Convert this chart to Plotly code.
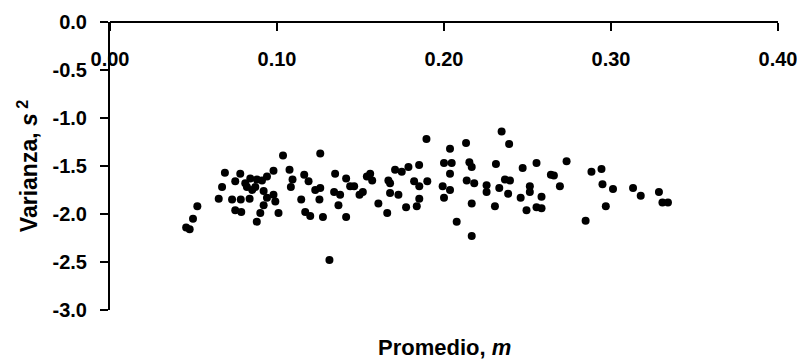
import plotly.graph_objects as go

# Promedio (m) and Varianza (s^2)
promedio = [0.0456, 0.0477, 0.0497, 0.0523, 0.0651, 0.0671, 0.0688, 0.0731, 0.0750, 0.0750,
            0.0780, 0.0783, 0.0786, 0.0820, 0.0836, 0.0840, 0.0870, 0.0880, 0.0879, 0.0900,
            0.0920, 0.0920, 0.0940, 0.0940, 0.0910, 0.0979, 0.0979, 0.0990, 0.1009, 0.1036,
            0.1075, 0.1093, 0.1083, 0.1145, 0.1163, 0.1189, 0.1169, 0.1199, 0.1229, 0.1259,
            0.1254, 0.1259, 0.1275, 0.1314, 0.1348, 0.1342, 0.1378, 0.1368, 0.1414, 0.1438,
            0.1462, 0.1414, 0.1494, 0.1514, 0.1538, 0.1558, 0.1570, 0.1607, 0.1660, 0.1667,
            0.1677, 0.1677, 0.1707, 0.1747, 0.1787, 0.1727, 0.1773, 0.1821, 0.1851, 0.1852,
            0.1852, 0.1837, 0.1895, 0.1900, 0.1992, 0.2000, 0.2000, 0.2036, 0.2046, 0.2036,
            0.2036, 0.2076, 0.2132, 0.2152, 0.2166, 0.2136, 0.2181, 0.2166, 0.2166, 0.2255,
            0.2255, 0.2305, 0.2311, 0.2331, 0.2345, 0.2365, 0.2395, 0.2384, 0.2390, 0.2459,
            0.2471, 0.2494, 0.2514, 0.2514, 0.2554, 0.2554, 0.2584, 0.2584, 0.2640, 0.2658,
            0.2694, 0.2734, 0.2848, 0.2883, 0.2943, 0.2949, 0.2969, 0.3012, 0.3132, 0.3178,
            0.3287, 0.3308, 0.3341, 0.0810, 0.0852]
varianza = [-2.14, -2.16, -2.05, -1.92, -1.84, -1.72, -1.57, -1.85, -1.66, -1.96,
            -1.58, -1.85, -1.98, -1.72, -1.84, -1.63, -1.72, -1.64, -2.08, -1.99,
            -1.91, -1.76, -1.61, -1.83, -1.65, -1.55, -1.80, -1.87, -1.99, -1.39,
            -1.54, -1.64, -1.72, -1.85, -1.59, -1.66, -1.98, -2.02, -1.75, -1.73,
            -1.85, -1.37, -2.03, -2.48, -1.58, -1.77, -1.80, -1.91, -1.63, -1.71,
            -1.71, -2.03, -1.80, -1.77, -1.61, -1.58, -1.65, -1.89, -1.99, -1.65,
            -1.68, -1.78, -1.54, -1.56, -1.51, -1.80, -1.93, -1.66, -1.49, -1.71,
            -1.84, -1.92, -1.22, -1.66, -1.71, -1.47, -1.83, -1.32, -1.47, -1.58,
            -1.75, -2.08, -1.26, -1.46, -1.51, -1.65, -1.68, -1.89, -2.23, -1.70,
            -1.77, -1.92, -1.48, -1.73, -1.14, -1.64, -1.65, -1.79, -1.27, -1.83,
            -1.52, -1.96, -1.71, -1.77, -1.47, -1.93, -1.82, -1.94, -1.59, -1.60,
            -1.71, -1.45, -2.07, -1.56, -1.53, -1.69, -1.92, -1.74, -1.73, -1.81,
            -1.77, -1.88, -1.88, -1.68, -1.75]

x_ticks = [0.0, 0.1, 0.2, 0.3, 0.4]
x_labels = ["0.00", "0.10", "0.20", "0.30", "0.40"]
y_ticks = [0.0, -0.5, -1.0, -1.5, -2.0, -2.5, -3.0]
y_labels = ["0.0", "-0.5", "-1.0", "-1.5", "-2.0", "-2.5", "-3.0"]

FONT = "Liberation Sans, Arial, sans-serif"

fig = go.Figure()
fig.add_trace(go.Scatter(
    x=promedio, y=varianza, mode="markers",
    marker=dict(color="black", size=8, line=dict(width=0)),
    showlegend=False, cliponaxis=False,
))

fig.update_layout(
    width=797, height=354,
    margin=dict(l=102, r=27, t=14, b=52, autoexpand=False),
    paper_bgcolor="white", plot_bgcolor="white",
    font=dict(family=FONT, color="black"),
    xaxis=dict(
        range=[0, 0.4], side="bottom", anchor="free", position=1,
        tickvals=x_ticks, ticktext=x_labels, automargin=False,
        ticks="outside", ticklen=8, tickwidth=1.5, tickcolor="black",
        showline=True, linecolor="black", linewidth=2,
        showgrid=False, zeroline=False,
        tickfont=dict(family=FONT, size=20, color="black", weight="bold"),
        ticklabelstandoff=11,
    ),
    yaxis=dict(
        range=[-3.0, 0.0], domain=[0, 1], automargin=False,
        tickvals=y_ticks, ticktext=y_labels,
        ticks="outside", ticklen=8, tickwidth=1.5, tickcolor="black",
        showline=True, linecolor="black", linewidth=2,
        showgrid=False, zeroline=False,
        tickfont=dict(family=FONT, size=20, color="black", weight="bold"),
        ticklabelstandoff=9,
        title=dict(text="<b>Varianza, <i>s</i><sup> 2</sup></b>",
                   font=dict(family=FONT, size=23, color="black"), standoff=8),
    ),
    annotations=[dict(
        text="<b>Promedio, <i>m</i></b>", xref="paper", yref="paper",
        x=0.5, y=-0.08, xanchor="center", yanchor="top", showarrow=False,
        font=dict(family=FONT, size=22, color="black"),
    )],
)

fig.write_html("out.html")
